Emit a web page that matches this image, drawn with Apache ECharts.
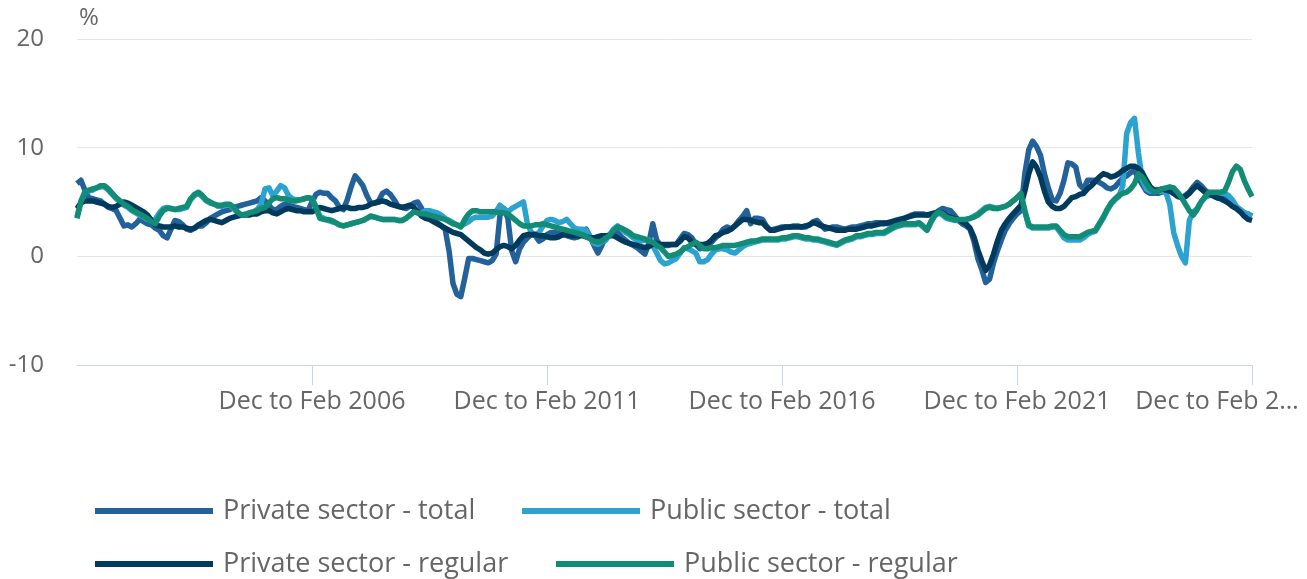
<!DOCTYPE html>
<html>
<head>
<meta charset="utf-8">
<title>Pay growth by sector</title>
<style>
    html, body { margin: 0; padding: 0; background: #fff; }
    #echart { width: 1307px; height: 579px; }
</style>
</head>
<body>
<div id="echart"></div>
<script src="https://cdn.jsdelivr.net/npm/echarts@6/dist/echarts.min.js"></script>
<script>
    // rolling three-month periods, Dec to Feb 2001 .. Dec to Feb 2026
    var periodNames = ['Dec to Feb', 'Jan to Mar', 'Feb to Apr', 'Mar to May', 'Apr to Jun', 'May to Jul',
        'Jun to Aug', 'Jul to Sep', 'Aug to Oct', 'Sep to Nov', 'Oct to Dec', 'Nov to Jan'];
    var firstYear = 2001;
    var periodCount = 301;

    var seriesNames = ['Private sector - total', 'Public sector - total', 'Private sector - regular', 'Public sector - regular'];
    var seriesColors = ['#23619a', '#2ba2d0', '#003a5c', '#128c74'];

    var yTicks = [-10, 0, 10, 20];

    var privateTotal = [
        6.7, 7.0, 6.1, 5.4, 5.3, 5.2, 5.1, 4.8, 4.5, 4.4, 4.2, 3.5,
        2.8, 2.9, 2.7, 3.0, 3.4, 3.2, 3.0, 2.9, 2.6, 2.4, 1.9, 1.7,
        2.5, 3.3, 3.2, 2.9, 2.5, 2.4, 2.6, 2.8, 2.8, 3.1, 3.5, 3.7,
        3.9, 4.1, 4.2, 4.3, 4.5, 4.6, 4.7, 4.8, 4.9, 5.0, 5.1, 5.4,
        5.1, 4.7, 4.3, 4.3, 4.6, 4.8, 4.7, 4.6, 4.5, 4.4, 4.3, 4.2,
        5.0, 5.7, 5.9, 5.8, 5.8, 5.4, 5.1, 4.5, 4.3, 5.2, 6.4, 7.4,
        7.0, 6.5, 5.6, 4.9, 4.9, 5.1, 5.8, 6.0, 5.7, 5.2, 4.6, 4.5,
        4.4, 4.6, 4.9, 5.0, 4.4, 3.7, 3.5, 3.4, 3.1, 2.8, 2.5, 0.5,
        -2.5, -3.5, -3.7, -2.0, -0.2, -0.2, -0.3, -0.4, -0.5, -0.6, -0.4, 0.2,
        3.8, 4.4, 3.5, 0.5, -0.5, 0.7, 1.3, 1.7, 2.0, 1.9, 1.4, 1.6,
        2.0, 2.2, 2.2, 2.1, 2.0, 1.9, 1.8, 1.7, 1.8, 2.2, 2.5, 1.8,
        1.0, 0.3, 1.0, 1.8, 2.0, 2.1, 2.2, 1.8, 1.5, 1.2, 1.0, 0.8,
        0.5, 0.2, 1.2, 3.0, 1.5, 1.0, 1.0, 1.0, 1.1, 1.1, 1.6, 2.1,
        2.0, 1.7, 1.1, 0.7, 0.8, 1.0, 1.3, 1.7, 2.0, 2.5, 2.7, 2.5,
        2.8, 3.3, 3.7, 4.2, 3.0, 3.5, 3.5, 3.4, 2.8, 2.4, 2.5, 2.6,
        2.7, 2.7, 2.7, 2.8, 2.8, 2.7, 2.7, 2.9, 3.2, 3.3, 2.9, 2.5,
        2.6, 2.7, 2.7, 2.6, 2.5, 2.6, 2.7, 2.7, 2.8, 2.9, 3.0, 3.0,
        3.1, 3.1, 3.1, 3.0, 3.0, 3.1, 3.3, 3.4, 3.6, 3.8, 3.9, 3.9,
        3.9, 3.8, 3.8, 3.8, 4.2, 4.4, 4.3, 4.2, 3.8, 3.3, 3.0, 2.8,
        2.5, 1.4, -0.2, -1.2, -2.4, -2.1, -0.6, 0.5, 1.5, 2.4, 3.0, 3.5,
        3.9, 4.2, 7.6, 9.8, 10.6, 10.1, 9.3, 7.6, 6.3, 5.2, 5.1, 5.8,
        7.0, 8.6, 8.5, 8.2, 6.6, 6.2, 7.0, 7.0, 7.0, 6.8, 6.6, 6.3,
        6.2, 6.4, 6.8, 7.2, 7.4, 7.7, 7.9, 7.2, 6.6, 6.0, 5.8, 5.8,
        5.8, 5.9, 6.0, 6.1, 5.8, 5.5, 5.4, 5.6, 5.9, 6.4, 6.8, 6.5,
        6.1, 5.8, 5.6, 5.4, 5.4, 5.4, 5.1, 4.8, 4.5, 4.3, 4.0, 3.9,
        3.7
    ];

    var publicTotal = [
        3.6, 5.1, 5.9, 6.0, 6.1, 6.3, 6.4, 6.4, 6.1, 5.7, 5.3, 5.0,
        4.7, 4.5, 4.2, 4.0, 3.8, 3.6, 3.4, 3.3, 3.4, 4.0, 4.4, 4.5,
        4.4, 4.3, 4.3, 4.4, 4.5, 5.2, 5.6, 5.8, 5.5, 5.1, 4.9, 4.8,
        4.6, 4.6, 4.7, 4.7, 4.4, 4.0, 3.8, 3.9, 4.0, 4.1, 4.3, 4.8,
        6.2, 6.3, 5.6, 6.0, 6.5, 6.3, 5.6, 5.3, 5.2, 5.2, 5.3, 5.4,
        5.3, 4.6, 3.7, 3.5, 3.3, 3.2, 3.1, 2.9, 2.8, 2.9, 3.0, 3.1,
        3.2, 3.3, 3.5, 3.7, 3.6, 3.5, 3.4, 3.4, 3.4, 3.4, 3.3, 3.3,
        3.5, 3.8, 4.1, 4.0, 4.0, 4.2, 4.2, 4.1, 4.0, 3.8, 3.5, 3.3,
        3.1, 2.9, 2.8, 3.0, 3.2, 3.5, 3.6, 3.6, 3.6, 3.6, 3.7, 4.1,
        4.7, 4.4, 4.1, 4.4, 4.6, 4.8, 5.0, 3.0, 2.2, 2.0, 2.2, 2.8,
        3.3, 3.4, 3.3, 3.1, 3.2, 3.4, 3.0, 2.6, 2.5, 2.5, 2.4, 1.8,
        1.2, 1.1, 1.3, 1.5, 2.0, 2.5, 2.8, 2.5, 2.2, 2.0, 1.7, 1.5,
        1.4, 1.5, 1.5, 1.0, 0.3, -0.4, -0.7, -0.6, -0.4, -0.2, 0.3, 0.8,
        0.7, 0.5, 0.3, -0.5, -0.5, -0.3, 0.2, 0.6, 0.7, 0.7, 0.6, 0.4,
        0.3, 0.6, 0.9, 1.1, 1.2, 1.3, 1.4, 1.5, 1.5, 1.5, 1.5, 1.5,
        1.6, 1.6, 1.7, 1.8, 1.8, 1.7, 1.6, 1.6, 1.5, 1.5, 1.4, 1.3,
        1.2, 1.1, 1.0, 1.2, 1.4, 1.5, 1.6, 1.8, 1.8, 1.9, 2.0, 2.0,
        2.1, 2.1, 2.1, 2.3, 2.5, 2.7, 2.8, 2.9, 2.9, 2.9, 2.9, 3.0,
        2.7, 2.4, 3.1, 3.7, 4.0, 3.8, 3.5, 3.4, 3.3, 3.3, 3.3, 3.4,
        3.5, 3.7, 3.9, 4.2, 4.5, 4.6, 4.5, 4.4, 4.5, 4.6, 4.8, 5.1,
        5.4, 5.7, 4.1, 2.8, 2.6, 2.6, 2.6, 2.6, 2.6, 2.7, 2.7, 2.2,
        1.7, 1.5, 1.5, 1.5, 1.5, 1.7, 2.0, 2.2, 2.3, 2.9, 3.5, 4.2,
        4.8, 5.2, 5.5, 6.5, 11.3, 12.3, 12.7, 9.5, 7.0, 6.2, 6.0, 6.0,
        6.0, 6.0, 5.9, 4.8, 2.2, 1.0, 0.0, -0.6, 3.3, 4.1, 4.4, 5.0,
        5.4, 5.6, 5.8, 5.8, 5.8, 5.8, 5.6, 5.2, 4.6, 4.3, 4.0, 3.9,
        3.7
    ];

    var privateRegular = [
        4.4, 4.9, 5.1, 5.1, 5.1, 5.0, 4.9, 4.8, 4.6, 4.5, 4.6, 4.8,
        5.0, 4.9, 4.7, 4.5, 4.3, 4.1, 3.8, 3.3, 2.9, 2.8, 2.7, 2.7,
        2.7, 2.8, 2.7, 2.7, 2.6, 2.5, 2.6, 2.9, 3.1, 3.3, 3.4, 3.3,
        3.2, 3.1, 3.3, 3.5, 3.6, 3.7, 3.8, 3.8, 3.8, 3.9, 3.9, 4.1,
        4.2, 4.2, 4.0, 3.9, 4.1, 4.3, 4.4, 4.3, 4.2, 4.2, 4.1, 4.1,
        4.1, 4.3, 4.5, 4.4, 4.3, 4.2, 4.3, 4.4, 4.5, 4.5, 4.4, 4.4,
        4.5, 4.5, 4.6, 4.8, 4.9, 5.0, 5.1, 5.0, 4.8, 4.7, 4.6, 4.5,
        4.6, 4.7, 4.5, 4.1, 3.7, 3.5, 3.4, 3.2, 3.0, 2.8, 2.6, 2.4,
        2.2, 2.1, 2.0, 1.7, 1.4, 1.1, 0.8, 0.6, 0.3, 0.2, 0.3, 0.6,
        0.9, 1.0, 0.9, 0.7, 1.0, 1.5, 1.9, 2.0, 2.0, 2.0, 1.9, 1.9,
        1.8, 1.7, 1.7, 1.8, 2.0, 2.0, 1.9, 1.9, 1.9, 1.9, 1.8, 1.7,
        1.7, 1.8, 1.9, 1.9, 1.9, 1.9, 1.7, 1.5, 1.3, 1.2, 1.1, 1.0,
        0.9, 0.8, 0.9, 1.1, 1.2, 1.1, 1.1, 1.1, 1.1, 1.1, 1.4, 1.8,
        1.7, 1.3, 1.1, 1.1, 1.1, 1.2, 1.5, 1.9, 2.0, 2.2, 2.3, 2.5,
        2.8, 3.1, 3.4, 3.4, 3.3, 3.2, 3.1, 3.1, 2.7, 2.4, 2.4, 2.5,
        2.6, 2.7, 2.7, 2.7, 2.7, 2.7, 2.8, 2.9, 3.1, 3.0, 2.8, 2.7,
        2.6, 2.5, 2.4, 2.4, 2.4, 2.5, 2.5, 2.5, 2.6, 2.7, 2.8, 2.8,
        2.9, 3.0, 3.0, 3.1, 3.2, 3.3, 3.4, 3.5, 3.6, 3.7, 3.8, 3.8,
        3.8, 3.8, 3.9, 4.0, 4.1, 4.0, 3.8, 3.6, 3.5, 3.4, 3.2, 3.0,
        2.6, 1.8, 0.6, -0.4, -1.3, -0.8, 0.2, 1.4, 2.4, 3.0, 3.5, 3.9,
        4.3, 4.7, 6.0, 7.6, 8.7, 8.2, 7.3, 6.0, 5.0, 4.6, 4.4, 4.4,
        4.6, 5.0, 5.4, 5.5, 5.7, 5.8, 6.2, 6.5, 6.9, 7.3, 7.6, 7.5,
        7.3, 7.4, 7.6, 7.9, 8.1, 8.3, 8.3, 8.1, 7.7, 7.0, 6.4, 6.1,
        6.1, 6.2, 6.1, 6.0, 5.8, 5.6, 5.4, 5.5, 5.8, 6.2, 6.5, 6.2,
        5.9, 5.7, 5.6, 5.4, 5.3, 5.1, 4.9, 4.6, 4.4, 4.1, 3.7, 3.4,
        3.3
    ];

    var publicRegular = [
        3.5, 5.0, 5.9, 6.1, 6.2, 6.3, 6.5, 6.5, 6.2, 5.8, 5.4, 5.1,
        4.8, 4.6, 4.3, 4.1, 3.9, 3.7, 3.5, 3.2, 3.0, 3.7, 4.2, 4.4,
        4.4, 4.3, 4.4, 4.5, 4.6, 5.3, 5.7, 5.9, 5.6, 5.2, 5.0, 4.8,
        4.7, 4.7, 4.8, 4.8, 4.5, 4.1, 3.8, 3.8, 4.0, 4.1, 4.2, 4.4,
        4.5, 4.9, 5.3, 5.4, 5.3, 5.3, 5.2, 5.1, 5.1, 5.2, 5.3, 5.4,
        5.3, 4.5, 3.5, 3.4, 3.4, 3.3, 3.1, 2.9, 2.8, 2.9, 3.0, 3.1,
        3.2, 3.3, 3.5, 3.7, 3.6, 3.5, 3.4, 3.4, 3.4, 3.4, 3.3, 3.3,
        3.5, 3.8, 4.1, 4.0, 3.9, 3.9, 3.8, 3.7, 3.6, 3.5, 3.4, 3.2,
        3.0, 2.9, 2.7, 3.4, 3.9, 4.2, 4.2, 4.1, 4.1, 4.1, 4.1, 4.1,
        4.0, 4.0, 3.9, 3.6, 3.3, 3.0, 2.8, 2.8, 2.8, 2.9, 2.9, 3.0,
        2.9, 2.8, 2.7, 2.6, 2.5, 2.4, 2.3, 2.2, 2.1, 2.0, 1.8, 1.6,
        1.4, 1.3, 1.4, 1.7, 1.9, 2.4, 2.7, 2.6, 2.4, 2.2, 1.9, 1.8,
        1.7, 1.6, 1.4, 1.3, 1.0, 0.8, 0.4, 0.0, 0.1, 0.2, 0.4, 0.7,
        0.9, 1.1, 1.3, 1.0, 0.7, 0.7, 0.8, 0.8, 0.9, 1.0, 1.0, 1.0,
        1.0, 1.1, 1.2, 1.3, 1.4, 1.4, 1.5, 1.6, 1.6, 1.6, 1.6, 1.6,
        1.7, 1.7, 1.8, 1.9, 1.9, 1.8, 1.7, 1.7, 1.6, 1.6, 1.5, 1.4,
        1.3, 1.2, 1.1, 1.3, 1.5, 1.6, 1.7, 1.9, 1.9, 2.0, 2.1, 2.1,
        2.2, 2.2, 2.2, 2.4, 2.6, 2.8, 2.9, 3.0, 3.0, 3.0, 3.0, 3.1,
        2.8, 2.4, 3.2, 3.8, 4.1, 3.9, 3.6, 3.5, 3.4, 3.4, 3.4, 3.4,
        3.5, 3.6, 3.8, 4.1, 4.4, 4.5, 4.4, 4.4, 4.5, 4.6, 4.8, 5.1,
        5.4, 5.8, 4.2, 2.9, 2.7, 2.7, 2.7, 2.7, 2.7, 2.8, 2.8, 2.4,
        2.0, 1.8, 1.8, 1.8, 1.8, 2.0, 2.2, 2.3, 2.4, 3.0, 3.6, 4.3,
        4.9, 5.3, 5.6, 5.8, 5.9, 6.2, 6.7, 7.6, 7.3, 6.7, 6.2, 5.9,
        6.0, 6.2, 6.3, 6.4, 6.3, 5.9, 5.4, 4.8, 4.2, 3.8, 4.3, 5.0,
        5.5, 5.9, 5.9, 5.9, 5.9, 6.0, 6.8, 7.8, 8.3, 8.0, 7.0, 6.2,
        5.5
    ];

    var categories = [];
    for (var i = 0; i < periodCount; i++) {
        var year = firstYear + Math.floor(i / 12) + (i % 12 === 11 ? 1 : 0);
        categories.push(periodNames[i % 12] + ' ' + year);
    }

    var FONT = '"Open Sans", "Noto Sans", sans-serif';
    var GREY = '#666666';

    function showTick(index) {
        return index > 0 && index % 60 === 0;
    }

    var app = echarts.init(document.getElementById('echart'), null, {renderer: 'canvas'});

    function legendAt(name, left, top) {
        return {
            data: [name],
            left: left,
            top: top,
            padding: 0,
            icon: 'rect',
            itemWidth: 118,
            itemHeight: 6,
            selectedMode: false,
            textStyle: {
                fontFamily: FONT,
                fontSize: 27,
                color: GREY,
                lineHeight: 30,
                padding: [0, 0, 0, 5]
            }
        };
    }

    var allSeries = [privateTotal, publicTotal, privateRegular, publicRegular];

    var option = {
        animation: false,
        color: seriesColors,
        grid: {
            left: 77,
            right: 55,
            top: 39,
            bottom: 214
        },
        legend: [
            legendAt(seriesNames[0], 95, 496),
            legendAt(seriesNames[1], 522, 496),
            legendAt(seriesNames[2], 95, 549),
            legendAt(seriesNames[3], 556, 549)
        ],
        xAxis: {
            type: 'category',
            boundaryGap: false,
            data: categories,
            axisLine: {onZero: false, lineStyle: {color: '#ccd6eb', width: 1}},
            axisTick: {
                interval: showTick,
                length: 20,
                lineStyle: {color: '#ccd6eb', width: 1}
            },
            axisLabel: {
                interval: showTick,
                margin: 24,
                fontFamily: FONT,
                fontSize: 25,
                color: GREY,
                formatter: function (value, index) {
                    if (index === periodCount - 1) {
                        return '{last|' + value.slice(0, 12) + '\u2026}';
                    }
                    return value;
                },
                rich: {
                    last: {
                        fontFamily: FONT,
                        fontSize: 25,
                        color: GREY,
                        padding: [0, 70, 0, 0]
                    }
                }
            },
            splitLine: {show: false}
        },
        yAxis: {
            type: 'value',
            min: yTicks[0],
            max: yTicks[yTicks.length - 1],
            interval: 10,
            name: '%',
            nameLocation: 'end',
            nameGap: 9,
            nameTextStyle: {
                fontFamily: FONT,
                fontSize: 24,
                color: GREY,
                align: 'left',
                padding: [0, 0, 0, 2]
            },
            axisLine: {show: false},
            axisTick: {show: false},
            axisLabel: {
                margin: 33,
                fontFamily: FONT,
                fontSize: 24,
                color: GREY
            },
            splitLine: {lineStyle: {color: '#e6e6e6', width: 1}}
        },
        series: []
    };

    for (var s = 0; s < allSeries.length; s++) {
        option.series.push({
            name: seriesNames[s],
            type: 'line',
            data: allSeries[s],
            showSymbol: false,
            symbol: 'none',
            lineStyle: {width: 5.5, color: seriesColors[s], join: 'round'},
            itemStyle: {color: seriesColors[s]}
        });
    }

    app.setOption(option);
</script>
</body>
</html>
